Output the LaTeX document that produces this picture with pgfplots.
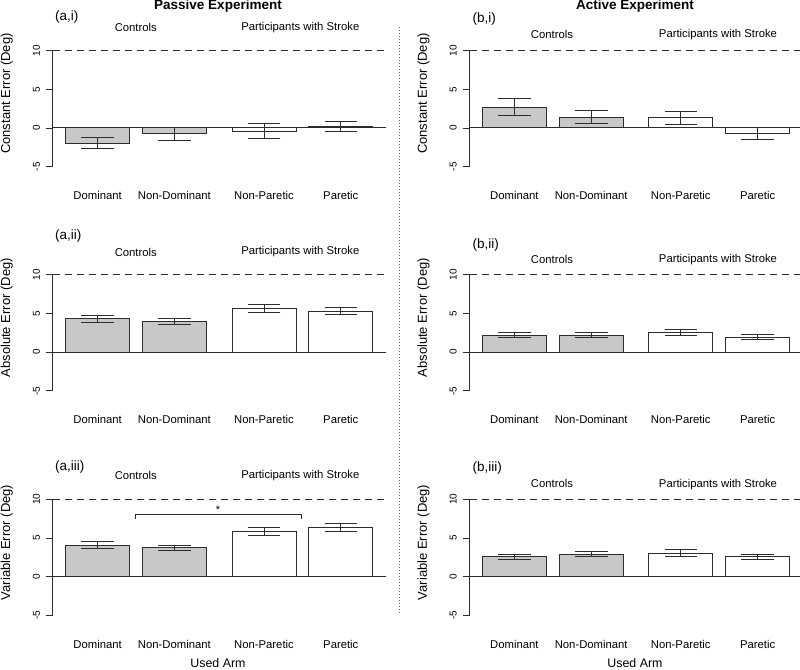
\documentclass[border=0pt]{standalone}
\usepackage{pgfplots}
\pgfplotsset{compat=1.18}
\usepackage{fontspec}
\setmainfont{Liberation Sans}
\definecolor{bargray}{RGB}{200,200,200}
\definecolor{ln}{RGB}{45,45,45}
\newcommand{\fcat}{\fontsize{11.3}{13}\selectfont}
\newcommand{\fpan}{\fontsize{13.5}{15}\selectfont}
\pgfplotsset{panel/.style={
  scale only axis, width=332.8pt, height=125.55pt,
  xmin=0, xmax=5.2, ymin=-5.6, ymax=10.6,
  axis line style={draw=none},
  xtick={0.7,1.9,3.3,4.5}, xticklabels={Dominant,Non-Dominant,Non-Paretic,Paretic},
  xtick style={draw=none},
  xticklabel style={font=\fcat, anchor=base, yshift=-21.3pt},
  ytick={-5,0,5,10}, yticklabels={-5,0,5,10},
  ytick pos=left, tick align=outside, major tick length=7pt,
  ytick style={ln, line width=0.9pt},
  yticklabel style={font=\fontsize{10}{12}\selectfont, rotate=90, anchor=base},
  yticklabel shift=6pt,
  ylabel style={font=\fontsize{13}{15}\selectfont, at={(rel axis cs:-0.1286,0.62)}, anchor=base},
  clip=false, ybar,
  error bars/y dir=both, error bars/y explicit,
  error bars/error bar style={line width=1pt, ln},
  error bars/error mark options={line width=1pt, ln, mark size=16.3pt, rotate=90},
}}
\newcommand{\decor}{%
  \draw[ln, line width=0.9pt] (axis cs:0,-5) -- (axis cs:0,10);
  \draw[ln, line width=1pt] (axis cs:0,0) -- (axis cs:5.2,0);
  \draw[ln, line width=1pt, dash pattern=on 7pt off 5pt] (axis cs:0,10) -- (axis cs:5.2,10);
}
\begin{document}
\begin{tikzpicture}
\useasboundingbox (0pt,0pt) rectangle (800pt,669pt);
% ---------- (a,i)
\begin{axis}[panel, at={(52.8pt,497.6pt)}, anchor=south west, ylabel={Constant Error (Deg)}]
\addplot[fill=bargray, draw=ln, line width=1pt, bar width=64pt, bar shift=0pt] table[x=x,y=y,y error=e] {
x y e
0.7 -1.94 0.77
1.9 -0.75 0.80
};
\addplot[fill=white, draw=ln, line width=1pt, bar width=64pt, bar shift=0pt] table[x=x,y=y,y error=e] {
x y e
3.3 -0.42 0.95
4.5 0.18 0.65
};
\decor
\end{axis}
% ---------- (b,i)
\begin{axis}[panel, at={(469.6pt,497.6pt)}, anchor=south west, ylabel={Constant Error (Deg)}]
\addplot[fill=bargray, draw=ln, line width=1pt, bar width=64pt, bar shift=0pt] table[x=x,y=y,y error=e] {
x y e
0.7 2.65 1.10
1.9 1.40 0.84
};
\addplot[fill=white, draw=ln, line width=1pt, bar width=64pt, bar shift=0pt] table[x=x,y=y,y error=e] {
x y e
3.3 1.30 0.86
4.5 -0.72 0.82
};
\decor
\end{axis}
% ---------- (a,ii)
\begin{axis}[panel, at={(52.8pt,273.4pt)}, anchor=south west, ylabel={Absolute Error (Deg)}]
\addplot[fill=bargray, draw=ln, line width=1pt, bar width=64pt, bar shift=0pt] table[x=x,y=y,y error=e] {
x y e
0.7 4.30 0.49
1.9 3.92 0.38
};
\addplot[fill=white, draw=ln, line width=1pt, bar width=64pt, bar shift=0pt] table[x=x,y=y,y error=e] {
x y e
3.3 5.66 0.54
4.5 5.28 0.45
};
\decor
\end{axis}
% ---------- (b,ii)
\begin{axis}[panel, at={(469.6pt,273.4pt)}, anchor=south west, ylabel={Absolute Error (Deg)}]
\addplot[fill=bargray, draw=ln, line width=1pt, bar width=64pt, bar shift=0pt] table[x=x,y=y,y error=e] {
x y e
0.7 2.20 0.30
1.9 2.20 0.30
};
\addplot[fill=white, draw=ln, line width=1pt, bar width=64pt, bar shift=0pt] table[x=x,y=y,y error=e] {
x y e
3.3 2.52 0.40
4.5 1.95 0.28
};
\decor
\end{axis}
% ---------- (a,iii)
\begin{axis}[panel, at={(52.8pt,48.8pt)}, anchor=south west, ylabel={Variable Error (Deg)}]
\addplot[fill=bargray, draw=ln, line width=1pt, bar width=64pt, bar shift=0pt] table[x=x,y=y,y error=e] {
x y e
0.7 4.10 0.43
1.9 3.73 0.30
};
\addplot[fill=white, draw=ln, line width=1pt, bar width=64pt, bar shift=0pt] table[x=x,y=y,y error=e] {
x y e
3.3 5.88 0.54
4.5 6.40 0.50
};
\decor
\draw[ln, line width=0.9pt] (axis cs:1.284,7.46) -- (axis cs:1.284,8.0) -- (axis cs:3.878,8.0) -- (axis cs:3.878,7.46);
\node[font=\fontsize{11}{12}\selectfont, anchor=base] at (axis cs:2.58,8.15) {*};
\end{axis}
% ---------- (b,iii)
\begin{axis}[panel, at={(469.6pt,48.8pt)}, anchor=south west, ylabel={Variable Error (Deg)}]
\addplot[fill=bargray, draw=ln, line width=1pt, bar width=64pt, bar shift=0pt] table[x=x,y=y,y error=e] {
x y e
0.7 2.57 0.35
1.9 2.93 0.30
};
\addplot[fill=white, draw=ln, line width=1pt, bar width=64pt, bar shift=0pt] table[x=x,y=y,y error=e] {
x y e
3.3 3.05 0.43
4.5 2.57 0.35
};
\decor
\end{axis}
% ---------- texts
\begin{scope}[x=1pt,y=1pt]
\node[font=\fpan\bfseries, anchor=base] at (218,659) {Passive Experiment};
\node[font=\fpan\bfseries, anchor=base] at (635,659) {Active Experiment};
\foreach \xl/\yl/\t in {55/648.2/{(a,i)}, 55/429.8/{(a,ii)}, 55/198.8/{(a,iii)}, 472.5/646.5/{(b,i)}, 472.5/420.5/{(b,ii)}, 472.5/197.2/{(b,iii)}}
  \node[font=\fpan, anchor=base west, inner sep=0pt] at (\xl,\yl) {\t};
\foreach \xc/\yc in {135.8/637.3, 135.8/412.7, 135.8/189, 552/630, 552/405, 552/181}
  \node[font=\fcat, anchor=base] at (\xc,\yc) {Controls};
\foreach \xc/\yc in {300.3/638.5, 300.3/414, 300.3/190, 718/631.7, 718/406, 718/181.7}
  \node[font=\fcat, anchor=base] at (\xc,\yc) {Participants with Stroke};
\node[font=\fontsize{12.4}{14}\selectfont, anchor=base] at (218,1.5) {Used Arm};
\node[font=\fontsize{12.4}{14}\selectfont, anchor=base] at (635,1.5) {Used Arm};
\draw[black!60, line width=1.1pt, dash pattern=on 1pt off 2pt] (399.3,642) -- (399.3,56);
\end{scope}
\end{tikzpicture}
\end{document}
